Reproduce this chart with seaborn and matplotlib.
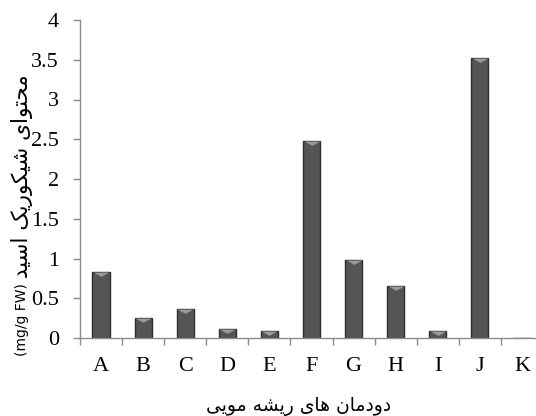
import matplotlib
matplotlib.use("Agg")
import matplotlib.pyplot as plt
import seaborn as sns
import pandas as pd
import numpy as np
from matplotlib.path import Path

# ---- data ----
categories = ["A", "B", "C", "D", "E", "F", "G", "H", "I", "J", "K"]
values = [0.83, 0.25, 0.37, 0.11, 0.09, 2.48, 0.98, 0.65, 0.09, 3.52, 0.0]
y_ticks = [0, 0.5, 1, 1.5, 2, 2.5, 3, 3.5, 4]
y_label_fa = "محتوای شیکوریک اسید"
y_label_unit = "(mg/g FW)"
x_label_fa = "دودمان های ریشه مویی"

# ---- minimal Persian shaping (presentation forms, visual order) ----
FORMS = {  # isolated, final, initial, medial
    'ا': ('\uFE8D', '\uFE8E', None, None),
    'د': ('\uFEA9', '\uFEAA', None, None),
    'ر': ('\uFEAD', '\uFEAE', None, None),
    'و': ('\uFEED', '\uFEEE', None, None),
    'ت': ('\uFE95', '\uFE96', '\uFE97', '\uFE98'),
    'ح': ('\uFEA1', '\uFEA2', '\uFEA3', '\uFEA4'),
    'س': ('\uFEB1', '\uFEB2', '\uFEB3', '\uFEB4'),
    'ش': ('\uFEB5', '\uFEB6', '\uFEB7', '\uFEB8'),
    'م': ('\uFEE1', '\uFEE2', '\uFEE3', '\uFEE4'),
    'ن': ('\uFEE5', '\uFEE6', '\uFEE7', '\uFEE8'),
    'ه': ('\uFEE9', '\uFEEA', '\uFEEB', '\uFEEC'),
    'ی': ('\uFBFC', '\uFBFD', '\uFBFE', '\uFBFF'),
    'ک': ('\uFB8E', '\uFB8F', '\uFB90', '\uFB91'),
}


def shape(text):
    out = []
    n = len(text)
    for i, ch in enumerate(text):
        if ch not in FORMS:
            out.append(ch)
            continue
        f = FORMS[ch]
        prev = text[i - 1] if i > 0 else None
        nxt = text[i + 1] if i < n - 1 else None
        jp = prev in FORMS and FORMS[prev][2] is not None
        jn = f[2] is not None and nxt in FORMS
        if jp and jn:
            out.append(f[3])
        elif jp:
            out.append(f[1])
        elif jn:
            out.append(f[2])
        else:
            out.append(f[0])
    return "".join(out)[::-1]


sns.set_theme(style="white")
plt.rcParams['font.family'] = ['Liberation Serif', 'DejaVu Sans']

df = pd.DataFrame({"line": categories, "value": values})

fig = plt.figure(figsize=(5.36, 4.16), dpi=100)
ax = fig.add_axes([80 / 536, 78 / 416, 463 / 536, 318 / 416])

sns.barplot(data=df, x="line", y="value", order=categories, ax=ax,
            color="#555555", width=0.41, edgecolor="#2e2e2e", linewidth=1.0,
            saturation=1)

# lighter cone tip on top of each bar
tri = Path([(-1, 0), (1, 0), (0, -0.55), (-1, 0)],
           [Path.MOVETO, Path.LINETO, Path.LINETO, Path.CLOSEPOLY])
xs = [i for i, v in enumerate(values) if v > 0]
ys = [v for v in values if v > 0]
ax.scatter(xs, ys, marker=tri, s=130, color="#9a9a9a", linewidths=0, zorder=5)

ax.set_ylim(0, 4)
ax.set_xlim(-0.5, len(categories) - 0.5)
ax.set_yticks(y_ticks)
ax.set_yticklabels([f"{t:g}" for t in y_ticks])
ax.set_xticks(range(len(categories)))
ax.set_xticklabels(categories)
ax.set_xticks(np.arange(-0.5, len(categories), 1.0), minor=True)

for s in ["top", "right"]:
    ax.spines[s].set_visible(False)
for s in ["left", "bottom"]:
    ax.spines[s].set_color("#8c8c8c")
    ax.spines[s].set_linewidth(1.0)

ax.set_xlabel(shape(x_label_fa), family=['DejaVu Sans'], fontsize=13.5,
              color="black", va="top")
ax.xaxis.set_label_coords(0.471, -0.186)
ax.set_ylabel("")
fig.text(22 / 536, 1 - 176 / 416, shape(y_label_fa), family=['DejaVu Sans'],
         fontsize=15.5, rotation=90, ha="center", va="center", color="black")
fig.text(22 / 536, 1 - 320 / 416, y_label_unit, family=['DejaVu Sans'],
         fontsize=10, rotation=90, ha="center", va="center", color="black")
ax.grid(False)

ax.yaxis.set_tick_params(which="major", left=True, length=5, width=1,
                         color="#8c8c8c", pad=10, labelsize=16,
                         labelcolor="black", direction="out")
ax.xaxis.set_tick_params(which="major", bottom=False, length=0, pad=14,
                         labelsize=16, labelcolor="black")
ax.xaxis.set_tick_params(which="minor", bottom=True, length=5, width=1,
                         color="#8c8c8c", direction="out")

fig.savefig("out.png", dpi=100)
